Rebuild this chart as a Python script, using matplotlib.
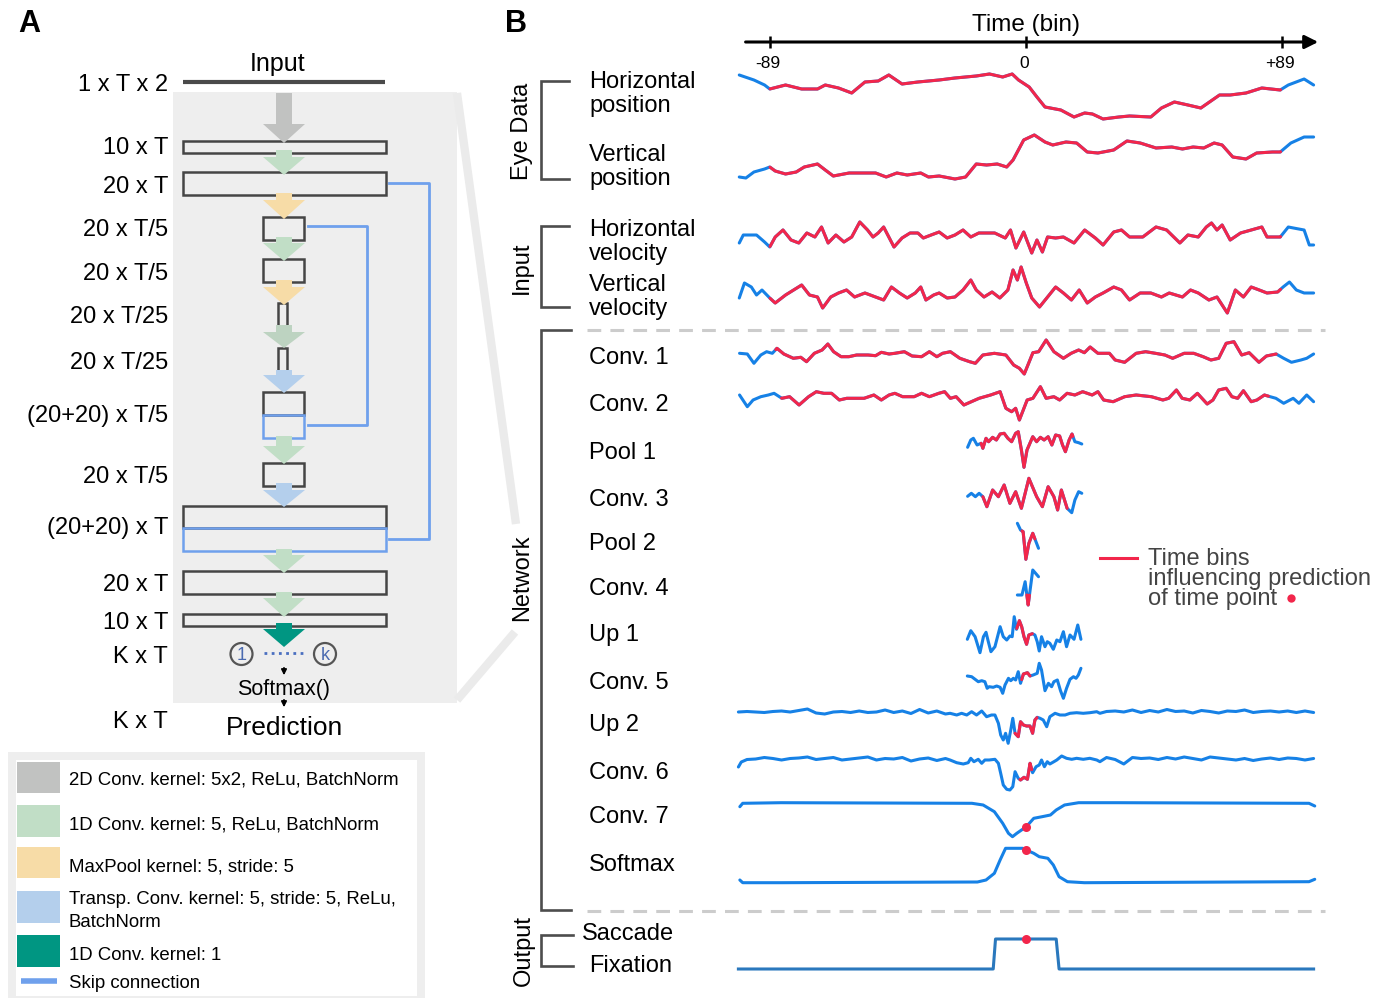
import matplotlib
matplotlib.use('Agg')
import matplotlib.pyplot as plt
import numpy as np
from matplotlib.patches import Rectangle, Polygon, Circle

plt.rcParams['font.family'] = ['Liberation Sans', 'DejaVu Sans']

# ---------------- data (time in bins, values = upward deflection) ----------------
time_ticks = [-89, 0, 89]
time_tick_labels = ['-89', '0', '+89']

hp_t = [-99.7, -94.6, -90.9, -89.1, -83.6, -78.0, -72.5, -69.8, -65.2, -60.6, -56.0, -51.4, -47.7, -43.1,
        -37.6, -30.2, -24.7, -21.0, -17.3, -12.7, -8.1, -4.8, -2.6, 1.1, 3.8, 6.6, 12.1, 16.7, 20.4, 23.1,
        26.8, 32.3, 36.0, 43.4, 47.1, 51.6, 56.3, 60.8, 67.3, 71.0, 76.5, 82.0, 88.4, 91.2, 96.7, 100.0]
hp_v = [20, 15, 10, 6, 10, 6, 6, 10, 7, 2, 13, 14, 20, 11, 13, 15, 17, 18, 19, 21, 18, 21, 15, 8, -2,
        -12, -15, -22, -18, -19, -24, -22, -21, -22, -13, -7, -10, -13, 0, 0, 2, 7, 5, 10, 16, 10]

vp_t = [-99.7, -97.4, -94.6, -90.9, -89.1, -87.2, -83.6, -79.9, -77.1, -72.5, -69.8, -67.0, -61.5, -56.0,
        -52.3, -48.6, -44.9, -41.3, -36.6, -33.9, -30.2, -24.7, -21.0, -17.3, -13.7, -10.0, -6.7, -4.5,
        -0.8, 2.9, 6.6, 9.3, 13.9, 17.6, 21.3, 25.0, 30.5, 35.1, 39.7, 45.2, 50.7, 54.4, 58.1, 61.8, 65.4,
        68.2, 71.9, 76.5, 80.2, 85.7, 88.4, 92.1, 96.7, 100.0]
vp_v = [-12, -13, -7, -4, -2, -6, -9, -7, -2, 1, -5, -11, -8, -8, -8, -12, -8, -10, -8, -12, -11, -14, -12,
        1, 0, 1, -2, 5, 25, 30, 23, 20, 23, 22, 13, 12, 15, 24, 22, 17, 18, 16, 18, 17, 22, 20, 8, 6, 12,
        13, 13, 22, 28, 28]

hv_t = [-99.7, -98.3, -93.7, -90.9, -89.1, -87.2, -84.5, -81.7, -79.0, -76.2, -73.4, -71.1, -68.8, -66.1,
        -63.3, -60.6, -57.8, -55.1, -53.2, -51.4, -49.5, -45.9, -43.1, -40.3, -37.6, -35.7, -33.0, -30.2,
        -27.4, -24.7, -21.9, -19.2, -16.4, -10.9, -7.2, -5.4, -3.5, -0.8, 2.0, 3.8, 5.7, 7.5, 10.3, 13.0,
        16.7, 20.4, 24.1, 26.8, 30.5, 33.2, 36.0, 40.6, 45.2, 48.9, 53.5, 56.3, 59.9, 62.7, 64.5, 66.4,
        68.2, 71.0, 74.6, 78.3, 82.0, 83.8, 85.7, 88.4, 91.2, 93.0, 96.7, 98.5, 100.0]
hv_v = [-5, 3, 3, -4, -9, 1, 8, -2, -5, 5, 1, 11, -5, 3, -4, 1, 16, 8, 1, 5, 11, -9, 0, 5, 5, 0, 3, 6, 0, 3,
        8, 1, 5, 5, 0, 8, -10, 6, -15, -2, -14, 1, 0, 1, -5, 8, 0, -7, 6, 8, 1, 1, 11, 8, -5, 3, 1, 11, 15, 8,
        13, -2, 5, 8, 11, 1, 1, 1, 11, 10, 8, -7, -7]

vv_t = [-99.7, -97.9, -95.5, -93.7, -91.8, -89.1, -87.2, -83.6, -80.8, -78.0, -75.3, -72.5, -70.7, -67.9,
        -65.2, -62.4, -59.6, -56.0, -52.3, -49.5, -46.8, -44.0, -41.3, -38.5, -36.6, -34.8, -32.1, -30.2,
        -27.4, -24.7, -21.9, -19.2, -17.3, -14.6, -11.8, -9.1, -6.3, -4.5, -3.0, -1.7, 0.1, 2.0, 4.7, 7.5,
        10.3, 13.0, 15.8, 18.5, 21.3, 24.1, 26.8, 30.5, 33.2, 36.0, 39.7, 43.4, 47.1, 49.8, 54.4, 57.2,
        59.9, 63.6, 66.4, 70.0, 72.8, 75.6, 78.3, 81.1, 83.8, 87.5, 89.4, 91.6, 94.0, 96.7, 100.0]
vv_v = [-3, 12, 8, 0, 5, -3, -8, 0, 5, 10, 0, -2, -13, -2, 2, 5, -2, 2, -2, -5, 8, 2, -3, 2, 8, -5, 0, 2, -3,
        -2, 5, 15, 5, -2, 3, -3, 5, 25, 15, 28, 12, -3, -12, -2, 8, 2, -5, 5, -8, -2, 2, 8, 5, -5, 2, 2, -2,
        2, -2, 5, 2, -5, -2, -18, 5, -2, 8, 5, 2, 3, 8, 13, 5, 2, 2]

c1_t = [-99.6, -96.9, -94.6, -92.2, -90.2, -88.2, -86.6, -84.2, -80.9, -78.3, -76.3, -73.6, -70.9, -68.9,
        -66.9, -64.3, -61.6, -58.9, -54.9, -52.3, -50.3, -47.6, -45.6, -42.3, -39.6, -36.3, -33.6, -31.0,
        -29.0, -26.3, -23.0, -19.6, -17.6, -15.0, -11.0, -7.0, -4.3, -2.3, -0.6, 2.4, 4.4, 7.0, 9.7, 13.0,
        15.7, 18.3, 20.3, 22.3, 25.0, 29.0, 31.0, 34.3, 38.3, 41.6, 45.0, 48.3, 51.0, 55.0, 58.3, 61.6,
        64.3, 67.0, 69.6, 72.3, 75.0, 77.6, 81.0, 83.6, 87.0, 89.6, 92.3, 95.6, 97.6, 100.0]
c1_v = [1.7, 1, -8.3, 0, 3.3, 1.7, 6.7, 1, -3.3, -2.3, -6.7, 1.7, 5, 11, 3.3, -1.7, -1.7, 0, 0, -0.7,
        2.7, 1, 1.7, 3.3, -1, -1.7, 3.3, -1.7, 1.7, 3.3, -3.3, -6.7, -8.3, 0, 1.7, 0, -10, -13.3, -19, 2.3,
        3.3, 15, 3.3, -3.3, 1.7, 5, 2.3, 8, 1.7, 1.7, -5, -7.3, 1.7, 3.3, 1.7, 0, -3.3, 1.7, 1.7, -1.7,
        -5, -3.3, 11.7, 13.3, 0, 2.3, -7.3, -1, 1, -3.3, -7.3, -5, -3.3, 1]

c2_t = [-99.6, -96.9, -94.9, -92.2, -89.6, -87.6, -84.9, -82.2, -78.9, -75.6, -72.9, -70.3, -67.6, -64.9,
        -62.3, -58.9, -56.3, -52.9, -50.3, -47.6, -45.6, -42.9, -38.9, -36.3, -33.6, -30.3, -28.3, -26.3,
        -24.3, -21.6, -19.0, -16.3, -12.3, -9.0, -7.0, -5.0, -3.6, -2.3, 0.4, 2.4, 5.0, 7.0, 9.7, 11.7,
        14.3, 17.0, 19.7, 23.0, 25.0, 27.0, 30.3, 34.3, 38.3, 43.6, 47.6, 49.6, 52.3, 54.3, 57.0, 59.6,
        63.0, 65.0, 67.0, 69.6, 71.6, 73.6, 75.6, 78.3, 80.3, 82.9, 84.9, 86.9, 89.6, 92.9, 94.9, 97.6, 100.0]
c2_v = [7, -4.7, 2, 5.3, 7, 8.7, 3.7, 5.3, -3, 5.3, 10.3, 8.7, 8.7, 2, 3.7, 3.7, 3.7, 7, 2, 7,
        8.7, 5.3, 5.3, 8.7, 5.3, 8.7, 10.3, 3.7, 5.3, -3, 0.3, 3.7, 7, 10.3, -6.3, -9.7, -6.3, -18, 2, 3.7,
        15.3, 3.7, 5.3, 2, 8.7, 7, 10.3, 7, 10.3, 2, 0.3, 5.3, 7, 5.3, 2, 3.7, 12, 3.7, 2, 8.7,
        -2, 2, 12, 13.7, 5.3, 3.7, 11.3, 0.3, 2, 7, 5.3, 3.7, -1.3, 3.7, -1.3, 7, 0.3]

p1_t = [-20.3, -19.2, -18.3, -17.0, -15.6, -15.0, -13.9, -13.0, -11.6, -10.3, -9.0, -7.6, -6.3, -5.0,
        -3.6, -2.7, -1.6, -0.7, 0.35, 2.35, 3.7, 5.0, 6.3, 7.7, 9.0, 10.3, 11.7, 12.7, 13.7, 15.0, 16.0,
        17.0, 18.3, 19.4]
p1_v = [2.7, 10, 11.7, 5, 6.7, 1.7, 11.7, 8.3, 12.7, 10, 16, 16.7, 11.7, 8.3, 16.7, 18.3, 0, -17.3, 0,
        13.3, 8.3, 12.7, 10, 13.3, 5, 15, 14, 5, -1.7, 10, 16, 8.3, 7.3, 6]

c3_t = [-20.3, -19.0, -17.6, -16.3, -15.0, -13.6, -11.6, -9.6, -7.6, -5.6, -3.6, -1.6, 1.0, 3.7, 5.7, 7.7,
        9.7, 11.0, 12.3, 14.3, 15.9, 17.0, 18.3, 19.4]
c3_v = [0.7, 3.7, 0.3, 3.7, 0.3, -9.7, 7, 0.3, 12, -6.3, 5.3, -11.3, 18.7, 0.3, -9.7, 10.3, 0.3, -13, 7,
        -11.3, -15.7, -3, 5.3, 3.7]

p2_t = [-3.0, -1.9, -1.0, -0.05, 1.0, 2.35, 4.35]
p2_v = [18.7, 12, 10.3, -17.3, -1.3, 8.7, -6.3]

c4_t = [-3.0, -1.4, -0.3, 0.75, 2.35, 4.35]
c4_v = [-10, -10, 3.3, -20, 15, 8.3]

u1_t = [-20.4, -19.2, -17.7, -16.0, -14.8, -13.9, -13.1, -12.2, -10.8, -9.0, -7.9, -6.7, -5.6, -4.8, -4.1,
        -3.3, -2.3, -1.5, -0.7, 0.2, 1.0, 2.2, 3.1, 3.9, 4.6, 5.4, 6.6, 7.4, 8.3, 9.5, 10.7, 11.8, 13.0,
        14.1, 15.3, 16.7, 18.0, 19.1]
u1_v = [-7.3, 1.3, -4.7, -20.7, -4.7, -0.3, -9.7, -19.7, -14.7, 5.3, -4.7, -8, -4, -4.7, 15.3, 2.7, 11.3,
        5.3, -4.7, -12.3, -3, -1.7, -3, -9.7, -19, -4.7, -14.7, -9.7, -11.3, -17.3, -8, -9.7, 0.3, -14.7,
        -3, -7.3, 7, -7.3]

c5_t = [-20.4, -18.9, -17.7, -16.6, -15.4, -14.3, -13.5, -12.8, -11.4, -10.2, -9.0, -8.1, -7.3, -6.1, -5.3,
        -4.4, -3.6, -2.7, -1.9, -0.9, 0.5, 1.4, 2.5, 3.9, 4.6, 5.4, 6.6, 7.8, 8.9, 9.7, 10.9, 12.0, 13.0,
        14.1, 15.3, 16.5, 17.4, 18.2, 19.1]
c5_v = [4, 3.3, 0.7, -1.7, -0.7, -1.7, -8.3, -6.7, -7.3, -6, -7.3, -13.3, -5, 1.7, -0.7, 1.7, 0, 8.3, -3.3,
        6, 7.3, 4, 5, 6.7, 16.7, 10, -10.7, -3.3, -6.7, -1.7, 0, -10.7, -18.3, -8.3, 0.7, 3.3, 1.7, 5, 11.7]

u2_t = [-100, -97, -94, -91, -88, -85, -82, -79, -76, -73, -70, -67, -64, -61, -58, -55, -52, -49, -46,
        -43, -40, -37, -34, -31, -28,
        -26.4, -24.1, -22.4, -20.6, -18.9, -17.2, -15.4, -13.7, -12.0, -10.8, -9.6, -8.8, -7.9, -7.1, -6.2,
        -5.3, -4.6, -3.8, -2.7, -1.9, -0.9, 0.2, 1.4, 2.3, 3.1, 3.9, 4.9, 6.0, 7.2, 8.3, 10.1, 11.8, 13.6,
        15.3, 17.6, 19.9, 22.2, 24.6, 25.7,
        28, 31, 34, 37, 40, 43, 46, 49, 52, 55, 58, 61, 64, 67, 70, 73, 76, 79, 82, 85, 88, 91, 94, 97, 100]
u2_v = [0, 0.5, 0, -0.5, 0.5, 1, 0, 1.5, 3, -1, -2, 0, 0.5, -0.5, 1, -0.5, 0, 2, -0.5, 1, -1.5, 2.5, -1,
        1, -2,
        -1.3, -3, -1.3, -3, 0.3, -3, 1, -4.7, -3, -3, -11.3, -23, -28, -21.3, -31.3, -18, -6.3, -21.3, -24.7,
        -9.7, -13, -14, -14, -21.3, -8, -5.3, -6.3, -8, -14.7, -4.7, -1.3, -3, -3, -1.3, -0.7, -1.3, -0.7,
        0.3, -1.3,
        0.5, 1, 0, 2, -0.5, 1.5, 0, 2.5, 0.5, 1, -1, 1.5, 0.5, -1, 1, 0.5, 2, -0.5, 0.5, 1, 0, 1, -0.5, 1, -0.5]

c6_t = [-100, -99, -97, -94, -91, -88, -85, -82, -79, -76, -73, -70, -67, -64, -61, -58, -55, -52, -49,
        -46, -43, -40, -37, -34, -31, -28,
        -26.4, -24.1, -21.8, -20.1, -19.2, -18.1, -16.6, -15.4, -14.3, -12.8, -10.8, -9.6, -8.8, -7.9, -6.7,
        -5.6, -4.6, -3.8, -2.7, -1.9, -0.7, 0.5, 1.4, 2.3, 3.5, 4.6, 5.4, 6.4, 7.4, 8.3, 9.7, 10.7, 12.4,
        14.1, 15.9, 17.6, 19.9, 22.2, 24.6, 25.7,
        28, 31, 34, 37, 40, 43, 46, 49, 52, 55, 58, 61, 64, 67, 70, 73, 76, 79, 82, 85, 88, 91, 94, 97, 100]
c6_v = [-8, -3, -0.5, 0, 1.5, 0.5, -1, 0.5, 1, 2, -0.5, 0.5, 1.5, -1, 0, 1, 2, -1, 0.5, 0, 1.5, -2, 0, 1,
        -1.5, 0.5,
        -1, -3.7, -5, -3.7, 0.7, -2.7, -0.3, -4.3, -1, -1, -0.3, -4.3, -14.3, -26, -30.3, -31, -27.7, -12.7,
        -19.3, -21, -18.3, -20.3, -4.3, -13.7, -7.7, -6, -1, -7.7, -2.7, -5, -2.7, -1, 3, 0.7, -0.3, 0.7,
        -0.3, 0.7, -1, -2.7,
        1.5, -0.5, -5, 1.5, 0.5, 1, -0.5, 1.5, 0, 2, 0.5, -1, 2, 1, 0, -1, 0.5, -1.5, 0, 1, -0.5, 1, 0.5, -1, 0.5]

c7_t = [-99.5, -98.5, -85.2, -18.8, -14.9, -11.0, -8.1, -6.1, -4.7, -3.2, -1.2, 0.1, 2.7, 5.6, 8.5, 10.5,
        13.4, 18.3, 32.0, 98.4, 100.4]
c7_v = [-3.7, -0.3, 0.3, -0.3, -2, -8.7, -20.3, -30.3, -33.7, -30.3, -26.3, -23.7, -15.3, -13.7, -12, -7,
        -2, 0.3, 0.3, -0.3, -3]

sm_t = [-99.5, -98.5, -85.2, -16.9, -13.9, -11.0, -9.0, -7.1, -1.2, 0.1, 2.7, 4.6, 7.6, 9.5, 11.5, 14.4,
        20.3, 98.4, 100.4]
sm_v = [2, -0.7, -0.7, 0, 2, 8.7, 22, 33.7, 33.7, 32, 28.7, 25.3, 23.7, 17, 5.3, 0.3, -0.7, 0.3, 2.7]

out_t = [-100, -11.4, -10.6, 10.5, 11.5, 100]
out_state = [0, 0, 1, 1, 0, 0]          # 0 = fixation, 1 = saccade

# receptive field (red) ranges per layer
red_eye = (-89, 88.5)
red_c1 = (-87, 87)
red_c2 = (-85, 84.3)
red_p1 = (-15.6, 16.3)
red_c3 = (-15.0, 14.3)
red_p2 = (-1.4, 3.1)
red_c4 = (0.3, 1.2)
red_u1 = (-3.2, 2.2)
red_c5 = (-1.5, 1.4)
red_u2 = (-3.8, 3.8)
red_c6 = (-2.1, 2.0)

legend_items = ['2D Conv. kernel: 5x2, ReLu, BatchNorm', '1D Conv. kernel: 5, ReLu, BatchNorm',
                'MaxPool kernel: 5, stride: 5', 'Transp. Conv. kernel: 5, stride: 5, ReLu,\nBatchNorm',
                '1D Conv. kernel: 1']

# ---------------- styles ----------------
BLUE = '#1681e6'
RED = '#f2264b'
OUT_BLUE = '#2a78bd'
EDGE = '#454545'
SKIP = '#6fa0ec'
C_GRAY, C_GREEN, C_ORANGE, C_LBLUE, C_TEAL = '#c1c2c1', '#c1dec6', '#f7dca7', '#b4cfec', '#009682'
DY = 2  # visual centre of caps sits a bit below the bbox centre

W, H = 1386, 1000
fig = plt.figure(figsize=(W / 100, H / 100), dpi=100)
ax = fig.add_axes([0, 0, 1, 1])
ax.set_xlim(0, W)
ax.set_ylim(H, 0)
ax.axis('off')

PX_PER_BIN, T0 = 2.876, 1026
bx = fig.add_axes([(T0 - 100 * PX_PER_BIN) / W, 0, 200 * PX_PER_BIN / W, 1])
bx.set_xlim(-100, 100)
bx.set_ylim(H, 0)
bx.axis('off')
bx.patch.set_alpha(0)


def label(x, y, s, **kw):
    kw.setdefault('va', 'center')
    return ax.text(x, y + DY, s, **kw)


# ================= Panel A =================
label(18, 22, 'A', fontsize=22, fontweight='bold', ha='left')
ax.add_patch(Rectangle((173, 92), 284, 611, fc='#eeeeee', ec='none', zorder=0))
ax.plot([457, 516], [93, 524], color='#ebebeb', lw=6, solid_capstyle='butt', zorder=0)
ax.plot([457, 515], [700, 632], color='#ebebeb', lw=6, solid_capstyle='butt', zorder=0)

label(278, 62, 'Input', fontsize=18, ha='center')
ax.plot([183, 385], [82, 82], color='#4a4a4a', lw=3, solid_capstyle='butt')


def box(x0, x1, y0, y1, ec=EDGE):
    ax.add_patch(Rectangle((x0, y0), x1 - x0, y1 - y0, fill=False, ec=ec, lw=1.8, zorder=3))


box(183, 386, 141, 153)
box(183, 386, 172, 195)
box(263, 304, 217, 240)
box(263, 304, 259, 282)
box(278, 287, 303, 327)
box(278, 287, 348, 371)
box(263, 304, 392, 415)
box(263, 304, 415, 438, ec=SKIP)
box(263, 304, 463, 486)
box(183, 386, 506, 528)
box(183, 386, 528, 551, ec=SKIP)
box(183, 386, 571, 594)
box(183, 386, 614, 626)


def down_arrow(y0, y1, y2, color, cx=284, hs=8, hh=21):
    pts = [(cx - hs, y0), (cx + hs, y0), (cx + hs, y1), (cx + hh, y1), (cx, y2), (cx - hh, y1), (cx - hs, y1)]
    ax.add_patch(Polygon(pts, closed=True, fc=color, ec='none', zorder=4))


down_arrow(93, 124, 143, C_GRAY)
down_arrow(150, 157, 175, C_GREEN)
down_arrow(193, 200, 219, C_ORANGE)
down_arrow(237, 243, 261, C_GREEN)
down_arrow(280, 287, 305, C_ORANGE)
down_arrow(325, 332, 348, '#bdd3c1')
down_arrow(370, 375, 393, C_LBLUE)
down_arrow(436, 446, 464, C_GREEN)
down_arrow(483, 490, 507, C_LBLUE)
down_arrow(549, 555, 573, C_GREEN)
down_arrow(592, 598, 617, C_GREEN)
down_arrow(623, 629, 647, C_TEAL)

# skip connections
ax.plot([389, 429, 429, 389], [183, 183, 539, 539], color=SKIP, lw=2, zorder=2)
ax.plot([308, 367, 367, 308], [226, 226, 425, 425], color=SKIP, lw=2, zorder=2)

# class nodes
for cx, lab in [(241.5, '1'), (325, 'k')]:
    ax.add_patch(Circle((cx, 654), 11, fill=False, ec='#555555', lw=1.6, zorder=4))
    label(cx, 654, lab, fontsize=13, color='#4a6ab0', ha='center', zorder=5)
ax.plot([264, 303], [653, 653], color='#4a6fc0', lw=2, ls=(0, (1, 1.6)), zorder=4)
ax.annotate('', xy=(284, 678), xytext=(284, 665),
            arrowprops=dict(arrowstyle='-|>', color='k', lw=1.2, mutation_scale=8))
ax.annotate('', xy=(284, 710), xytext=(284, 697),
            arrowprops=dict(arrowstyle='-|>', color='k', lw=1.2, mutation_scale=8))
label(284, 687, 'Softmax()', fontsize=15.5, ha='center')
label(285, 726, 'Prediction', fontsize=19, ha='center')

shape_labels = ['1 x T x 2', '10 x T', '20 x T', '20 x T/5', '20 x T/5', '20 x T/25', '20 x T/25',
                '(20+20) x T/5', '20 x T/5', '(20+20) x T', '20 x T', '10 x T', 'K x T', 'K x T']
shape_label_y = [83, 146, 185, 228, 272, 315, 361, 414, 475, 526, 583, 621, 655, 720]
for lab, y in zip(shape_labels, shape_label_y):
    label(168, y, lab, fontsize=17, ha='right')

# legend
ax.add_patch(Rectangle((8, 752), 417, 246, fc='#eeeeee', ec='none'))
ax.add_patch(Rectangle((16, 760), 401, 236, fc='white', ec='none'))
sw_colors = [C_GRAY, C_GREEN, C_ORANGE, C_LBLUE, C_TEAL]
sw_y = [(762, 793), (805, 837), (847, 878), (891, 923), (935, 967)]
txt_y = [778, 823, 865, 909, 953]
for c, (y0, y1), lab, ty in zip(sw_colors, sw_y, legend_items, txt_y):
    ax.add_patch(Rectangle((17, y0), 43, y1 - y0, fc=c, ec='none'))
    label(69, ty, lab, fontsize=13.4, ha='left', linespacing=1.45)
ax.plot([21, 57], [981, 981], color=SKIP, lw=4, solid_capstyle='butt')
label(69, 982, 'Skip connection', fontsize=13.4, ha='left')

# ================= Panel B =================
label(505, 22, 'B', fontsize=22, fontweight='bold', ha='left')
label(1026, 23, 'Time (bin)', fontsize=17.5, ha='center')
bx.annotate('', xy=(101.6, 42), xytext=(-97.5, 42),
            arrowprops=dict(arrowstyle='-|>', color='k', lw=2.2, mutation_scale=20, shrinkA=0, shrinkB=0),
            annotation_clip=False)
bx.vlines(time_ticks, 36, 48, color='k', lw=1.8, clip_on=False)
for tk, lab in zip(time_ticks, time_tick_labels):
    bx.text(tk - 0.6, 61 + DY, lab, fontsize=12.5, ha='center', va='center', clip_on=False)


# brackets
def bracket(y0, y1, x_end=569):
    ax.plot([x_end, 541, 541, x_end], [y0, y0, y1, y1], color='#4d4d4d', lw=1.9, solid_joinstyle='miter')


bracket(81, 179)
bracket(226, 307)
bracket(330, 910, 571)
bracket(935, 966, 573)
for lab, x, y in [('Eye Data', 522, 131), ('Input', 522, 268), ('Network', 522, 578), ('Output', 524, 950)]:
    ax.text(x, y, lab, fontsize=17, rotation=90, ha='center', va='center')

for y in [330, 911]:
    ax.plot([587, 1325], [y, y], color='#cccccc', lw=2.2, dashes=(4.5, 3))

row_text = [('Horizontal', 80), ('position', 104), ('Vertical', 153), ('position', 177),
            ('Horizontal', 228), ('velocity', 252), ('Vertical', 283), ('velocity', 307),
            ('Conv. 1', 356), ('Conv. 2', 403), ('Pool 1', 451), ('Conv. 3', 498), ('Pool 2', 542),
            ('Conv. 4', 587), ('Up 1', 633), ('Conv. 5', 681), ('Up 2', 723), ('Conv. 6', 771),
            ('Conv. 7', 815), ('Softmax', 863), ('Fixation', 964)]
for lab, y in row_text:
    label(589, y, lab, fontsize=17, ha='left')
label(582, 932, 'Saccade', fontsize=17, ha='left')


def trace(t, v, base, red=None, color=BLUE):
    t = np.asarray(t, float)
    y = base - np.asarray(v, float)
    bx.plot(t, y, color=color, lw=2.2, solid_joinstyle='round', solid_capstyle='round', clip_on=False, zorder=3)
    if red is not None:
        lo, hi = red
        inside = (t > lo) & (t < hi)
        rt = np.concatenate([[lo], t[inside], [hi]])
        ry = np.interp(rt, t, y)
        bx.plot(rt, ry, color=RED, lw=2.2, solid_joinstyle='round', solid_capstyle='round',
                clip_on=False, zorder=4)
    return t, y


trace(hp_t, hp_v, 95, red_eye)
trace(vp_t, vp_v, 165, red_eye)
trace(hv_t, hv_v, 238, red_eye)
trace(vv_t, vv_v, 295, red_eye)
trace(c1_t, c1_v, 355, red_c1)
trace(c2_t, c2_v, 402, red_c2)
trace(p1_t, p1_v, 450, red_p1)
trace(c3_t, c3_v, 497, red_c3)
trace(p2_t, p2_v, 542, red_p2)
trace(c4_t, c4_v, 585, red_c4)
trace(u1_t, u1_v, 632, red_u1)
trace(c5_t, c5_v, 680, red_c5)
trace(u2_t, u2_v, 712, red_u2)
trace(c6_t, c6_v, 759, red_c6)
t7, y7 = trace(c7_t, c7_v, 803)
tsm, ysm = trace(sm_t, sm_v, 882)
out_y = 969 - 30 * np.asarray(out_state)
bx.plot(out_t, out_y, color=OUT_BLUE, lw=2.2, clip_on=False, zorder=3)

for tt, yy in [(t7, y7), (tsm, ysm), (np.asarray(out_t, float), out_y)]:
    bx.plot(0, np.interp(0, tt, yy), 'o', color=RED, ms=6.5, mec='none', zorder=6, clip_on=False)

# receptive-field legend
ax.plot([1100, 1137], [558, 558], color=RED, lw=2.2)
for lab, y in [('Time bins', 557), ('influencing prediction', 577), ('of time point', 597)]:
    label(1148, y, lab, fontsize=17, color='#444444', ha='left')
ax.plot(1291, 598, 'o', color=RED, ms=6, mec='none')

fig.savefig('out.png', dpi=100)
